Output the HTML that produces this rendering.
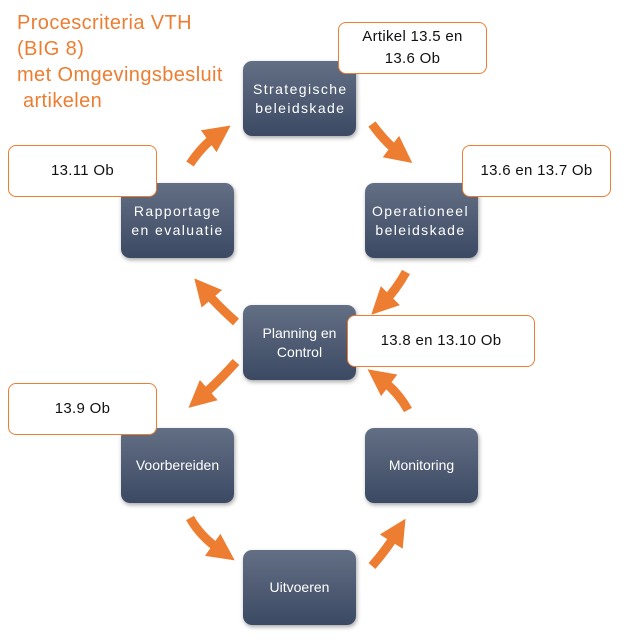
<!DOCTYPE html>
<html><head><style>
body{margin:0;width:624px;height:643px;background:#fff;position:relative;overflow:hidden;font-family:"Liberation Sans","DejaVu Sans",sans-serif}
.b{position:absolute;width:113px;height:75px;border-radius:9px;background:linear-gradient(#636f84,#3b4963);box-shadow:1px 2px 4px rgba(0,0,0,.35);color:#fff;font-size:14px;letter-spacing:1.4px;display:flex;align-items:center;justify-content:center;text-align:center;line-height:19px;overflow:hidden;white-space:nowrap}
.c{position:absolute;width:147px;height:50px;border:1.5px solid #ed7d31;border-radius:8px;background:#fff;font-size:15px;display:flex;align-items:center;justify-content:center;text-align:center;line-height:22px;color:#111;letter-spacing:.3px}
.t{position:absolute;left:17px;top:10px;color:#ed7d31;font-size:20px;line-height:26px;letter-spacing:.4px}
svg{position:absolute;left:0;top:0}
</style></head><body>
<div class="t">Procescriteria VTH<br>(BIG 8)<br>met Omgevingsbesluit<br>&nbsp;artikelen</div>
<svg width="624" height="643">
<defs><marker id="h" markerWidth="3" markerHeight="3" refX="1" refY="1.5" orient="auto"><path d="M0,0 L3,1.5 L0,3z" fill="#ed7d31"/></marker></defs>
<g fill="none" stroke="#ed7d31" stroke-width="9" marker-end="url(#h)">
<path d="M372,124 Q385,142 398,152"/>
<path d="M406,272 Q396,290 384,302"/>
<path d="M236,322 Q218,306 206,292"/>
<path d="M190,164 Q202,146 216,136"/>
<path d="M236,362 Q218,382 202,396"/>
<path d="M190,518 Q200,536 220,550"/>
<path d="M372,566 Q386,550 396,534"/>
<path d="M408,410 Q398,392 382,380"/>
</g></svg>
<div class="b" style="left:243px;top:61px;justify-content:flex-start;padding-left:10px;width:103px">Strategische<br>beleidskade</div>
<div class="b" style="left:365px;top:183px;justify-content:flex-start;padding-left:7px;width:106px">Operationeel<br>beleidskade</div>
<div class="b" style="left:121px;top:183px">Rapportage<br>en evaluatie</div>
<div class="b" style="left:243px;top:305px;letter-spacing:0">Planning en<br>Control</div>
<div class="b" style="left:121px;top:428px;letter-spacing:0">Voorbereiden</div>
<div class="b" style="left:365px;top:428px;letter-spacing:0">Monitoring</div>
<div class="b" style="left:243px;top:550px;letter-spacing:0">Uitvoeren</div>
<div class="c" style="left:338px;top:22px">Artikel 13.5 en<br>13.6 Ob</div>
<div class="c" style="left:8px;top:145px">13.11 Ob</div>
<div class="c" style="left:462px;top:145px">13.6 en 13.7 Ob</div>
<div class="c" style="left:347px;top:315px;width:186px">13.8 en 13.10 Ob</div>
<div class="c" style="left:8px;top:383px">13.9 Ob</div>
</body></html>
